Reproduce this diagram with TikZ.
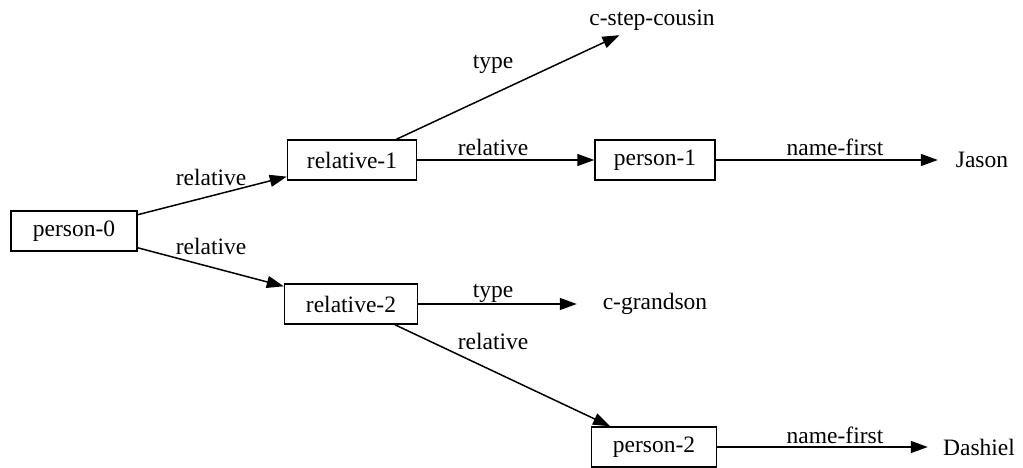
\documentclass[tikz,border=0pt]{standalone}
\usepackage{fontspec}
\setmainfont{Liberation Serif}
\usetikzlibrary{arrows.meta}
\begin{document}
\begin{tikzpicture}[x=1pt,y=-1pt,
  font=\fontsize{23.5}{26}\selectfont,
  box/.style={draw,line width=1.5pt,minimum height=40pt,inner sep=0pt},
  plain/.style={inner sep=0pt,minimum height=36pt},
  lbl/.style={inner sep=0pt},
  edge/.style={line width=1.5pt,-{Triangle[length=17pt,width=12pt]}}]
\useasboundingbox (0,0) rectangle (1023,468);
\node[box,minimum width=126pt] (p0) at (74,231) {person-0};
\node[box,minimum width=129pt] (r1) at (352,160) {relative-1};
\node[box,minimum width=120pt] (p1) at (655,160) {person-1};
\node[box,minimum width=133pt] (r2) at (351,304) {relative-2};
\node[box,minimum width=125pt] (p2) at (654,447) {person-2};
\node[plain,minimum width=130pt,minimum height=30pt] (csc) at (652,20) {c-step-cousin};
\node[plain,minimum width=88pt] (jason) at (982,160) {Jason};
\node[plain,minimum width=156pt] (cg) at (655,304) {c-grandson};
\node[plain,minimum width=102pt] (dash) at (979,447) {Dashiel};
\draw[edge] (p0) -- (r1);
\draw[edge] (p0) -- (r2);
\draw[edge] (r1) -- (csc);
\draw[edge] (r1) -- (p1);
\draw[edge] (p1) -- (jason);
\draw[edge] (r2) -- (cg);
\draw[edge] (r2) -- (p2);
\draw[edge] (p2) -- (dash);
\node[lbl] (l1) at (211,177) {relative};
\node[lbl] (l2) at (211,246) {relative};
\node[lbl] (l3) at (493,64) {type};
\node[lbl] (l4) at (493,147) {relative};
\node[lbl] (l5) at (835,147) {name-first};
\node[lbl] (l6) at (493,293) {type};
\node[lbl] (l7) at (493,341) {relative};
\node[lbl] (l8) at (835,435) {name-first};
\end{tikzpicture}
\end{document}
